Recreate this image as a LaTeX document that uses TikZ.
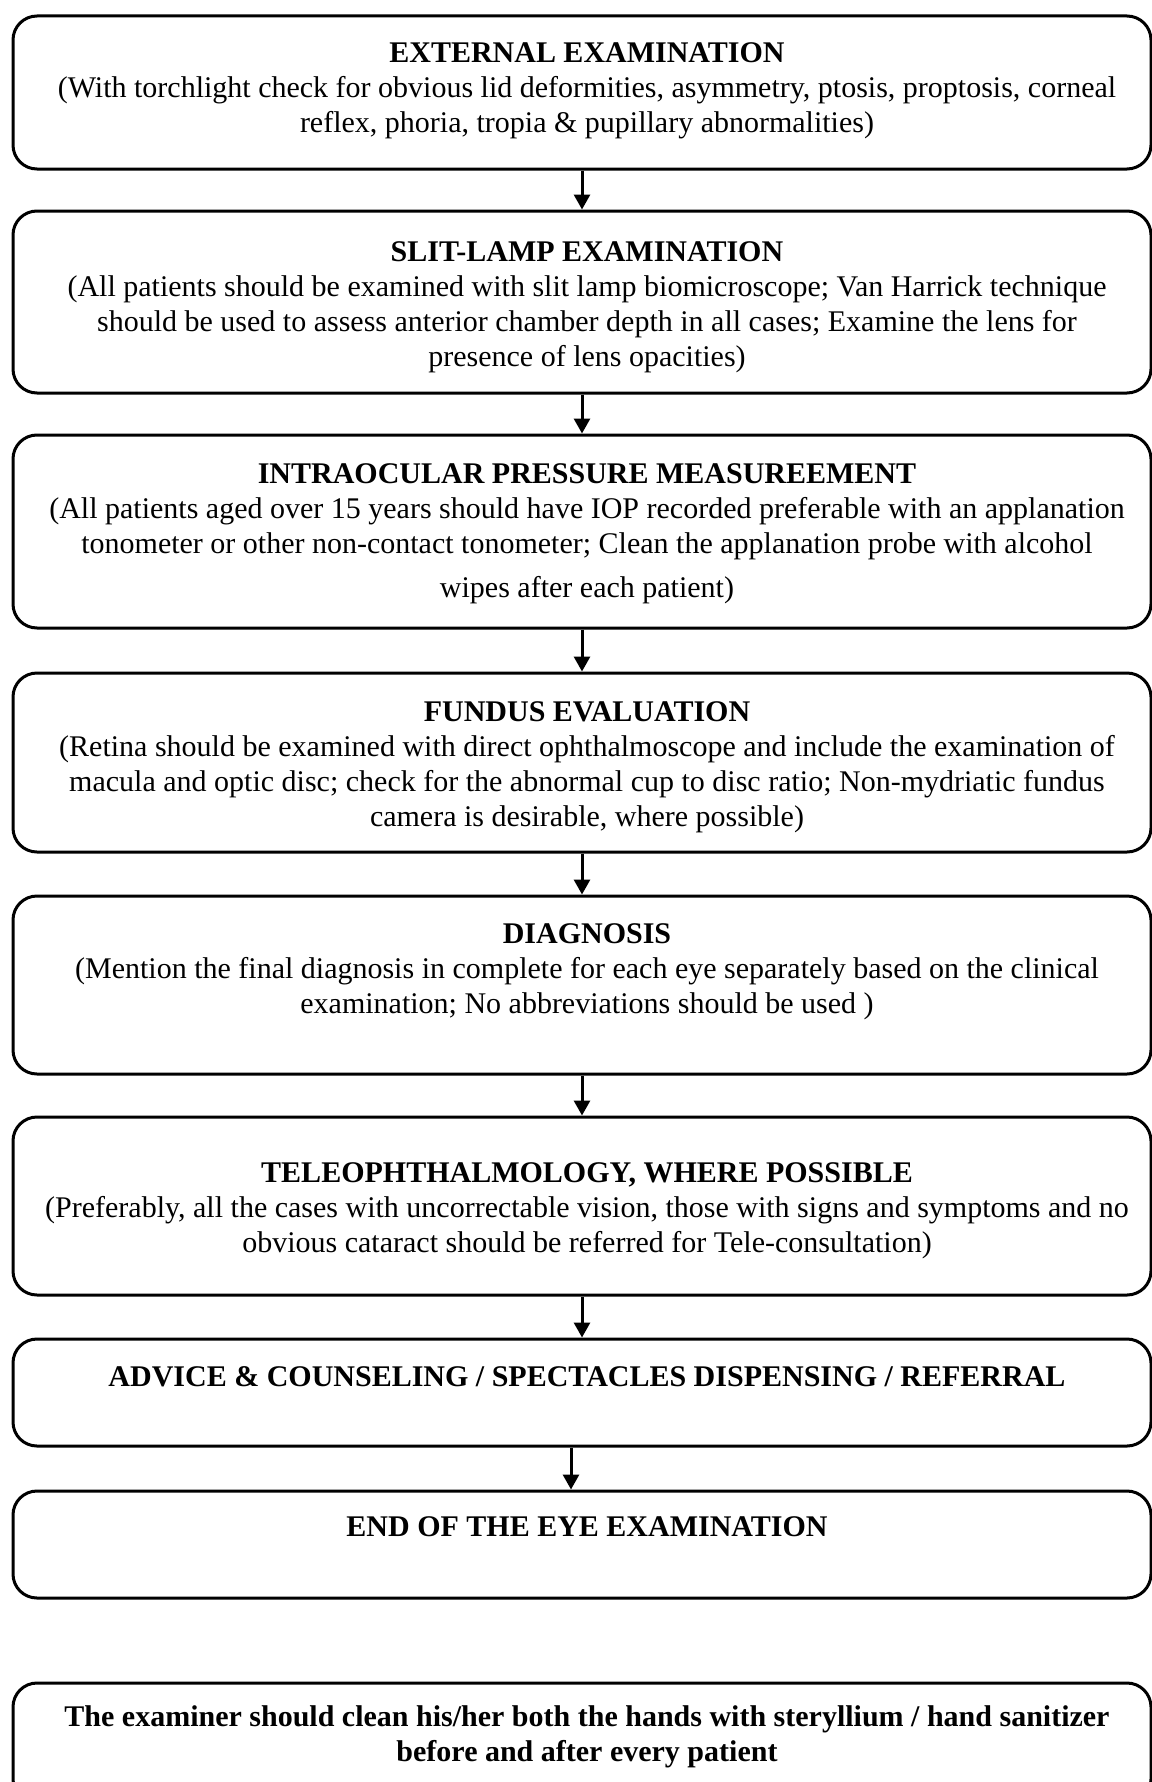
\documentclass[tikz,border=0pt]{standalone}
\usepackage{fontspec}
\setmainfont{Liberation Serif}
\usetikzlibrary{arrows.meta}

\begin{document}
\begin{tikzpicture}[x=0.5pt,y=-0.5pt,
  stage/.style={draw=black, line width=1.5pt, rounded corners=12pt,
    minimum width=569pt, inner sep=0pt, fill=white},
  label/.style={align=center, inner sep=0pt,
    font=\fontsize{15}{17.5}\selectfont},
  flow/.style={line width=1.5pt, -{Triangle[width=8pt,length=7.5pt]}}]

\useasboundingbox (0,0) rectangle (1151,1782);
\fill[white] (0,0) rectangle (1151,1782);

% frames of the stages: centre y and height in pixels of the page
\node[stage, minimum height=76.5pt]  (b1) at (582,92.5)   {};
\node[stage, minimum height=91pt]    (b2) at (582,302)    {};
\node[stage, minimum height=96.5pt]  (b3) at (582,531.5)  {};
\node[stage, minimum height=89.5pt]  (b4) at (582,762.5)  {};
\node[stage, minimum height=89pt]    (b5) at (582,985)    {};
\node[stage, minimum height=89pt]    (b6) at (582,1206)   {};
\node[stage, minimum height=53.5pt]  (b7) at (582,1392.5) {};
\node[stage, minimum height=53.5pt]  (b8) at (582,1544.5) {};
\node[stage, minimum height=60pt]    (b9) at (582,1743)   {};

% texts of the stages
\node[label] (t1) at (587,90.5) {\textbf{EXTERNAL EXAMINATION}\\
(With torchlight check for obvious lid deformities, asymmetry, ptosis, proptosis, corneal\\
reflex, phoria, tropia \& pupillary abnormalities)};

\node[label] (t2) at (587,307) {\textbf{SLIT-LAMP EXAMINATION}\\
(All patients should be examined with slit lamp biomicroscope; Van Harrick technique\\
should be used to assess anterior chamber depth in all cases; Examine the lens for\\
presence of lens opacities)};

\node[label] (t3) at (587,534) {\textbf{INTRAOCULAR PRESSURE MEASUREEMENT}\\
(All patients aged over 15 years should have IOP recorded preferable with an applanation\\
tonometer or other non-contact tonometer; Clean the applanation probe with alcohol\\[4.5pt]
wipes after each patient)};

\node[label] (t4) at (587,767) {\textbf{FUNDUS EVALUATION}\\
(Retina should be examined with direct ophthalmoscope and include the examination of\\
macula and optic disc; check for the abnormal cup to disc ratio; Non-mydriatic fundus\\
camera is desirable, where possible)};

\node[label] (t5) at (587,971.5) {\textbf{DIAGNOSIS}\\
(Mention the final diagnosis in complete for each eye separately based on the clinical\\
examination; No abbreviations should be used )};

\node[label] (t6) at (587,1210.5) {\textbf{TELEOPHTHALMOLOGY, WHERE POSSIBLE}\\
(Preferably, all the cases with uncorrectable vision, those with signs and symptoms and no\\
obvious cataract should be referred for Tele-consultation)};

\node[label] (t7) at (587,1377) {\textbf{ADVICE \& COUNSELING / SPECTACLES DISPENSING / REFERRAL}};

\node[label] (t8) at (587,1527) {\textbf{END OF THE EYE EXAMINATION}};

\node[label, font=\bfseries\fontsize{15}{17.5}\selectfont] (t9) at (587,1737)
  {The examiner should clean his/her both the hands with steryllium / hand sanitizer\\
   before and after every patient};

% connectors between the stages
\draw[flow] (b1.south) -- (b2.north);
\draw[flow] (b2.south) -- (b3.north);
\draw[flow] (b3.south) -- (b4.north);
\draw[flow] (b4.south) -- (b5.north);
\draw[flow] (b5.south) -- (b6.north);
\draw[flow] (b6.south) -- (b7.north);
\draw[flow] ([xshift=-5.5pt]b7.south) -- ([xshift=-5.5pt]b8.north);

\end{tikzpicture}
\end{document}
